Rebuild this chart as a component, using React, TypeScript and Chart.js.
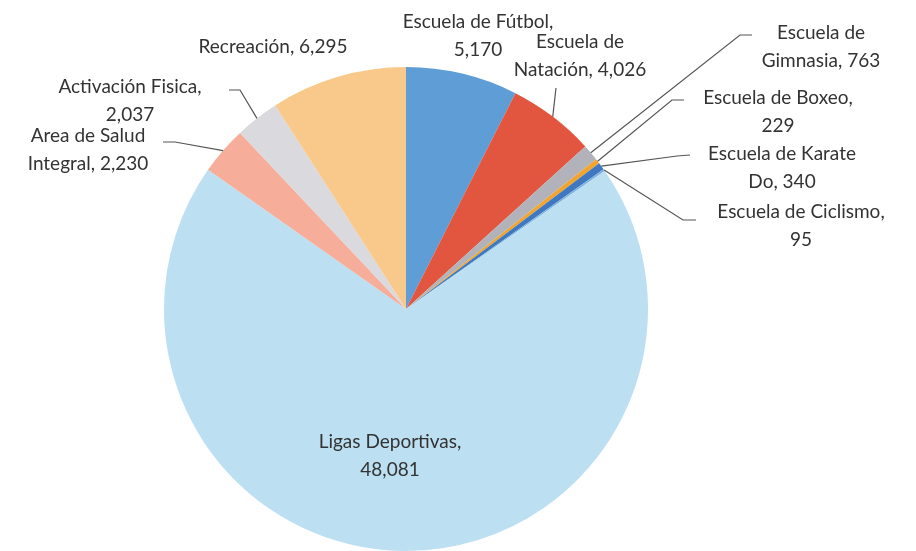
import React, { useEffect, useRef } from "react";
import { Chart, registerables } from "chart.js";

Chart.register(...registerables);

const categories = [
  "Escuela de Fútbol",
  "Escuela de Natación",
  "Escuela de Gimnasia",
  "Escuela de Boxeo",
  "Escuela de Karate Do",
  "Escuela de Ciclismo",
  "Ligas Deportivas",
  "Area de Salud Integral",
  "Activación Fisica",
  "Recreación",
];
const values = [5170, 4026, 763, 229, 340, 95, 48081, 2230, 2037, 6295];
const valueLabels = ["5,170", "4,026", "763", "229", "340", "95", "48,081", "2,230", "2,037", "6,295"];
const colors = [
  "#5E9DD6",
  "#E2553F",
  "#B2B2BA",
  "#F0A531",
  "#3F78C0",
  "#7FB3DE",
  "#BCDFF2",
  "#F6AE9B",
  "#D9D9DE",
  "#F9C98B",
];

// label layout: text lines, center x, first line y, leader line points (elbow, end)
const labelLayout: { lines: string[]; x: number; y: number; leader?: number[][] }[] = [
  { lines: ["Escuela de Fútbol,", "5,170"], x: 478, y: 22 },
  { lines: ["Escuela de", "Natación, 4,026"], x: 580, y: 42, leader: [[556, 88]] },
  { lines: ["Escuela de", "Gimnasia, 763"], x: 821, y: 33, leader: [[740, 35], [752, 35]] },
  { lines: ["Escuela de Boxeo,", "229"], x: 778, y: 98, leader: [[672, 100], [684, 100]] },
  { lines: ["Escuela de Karate", "Do, 340"], x: 782, y: 154, leader: [[677, 156], [690, 155]] },
  { lines: ["Escuela de Ciclismo,", "95"], x: 801, y: 212, leader: [[683, 220], [696, 220]] },
  { lines: ["Ligas Deportivas,", "48,081"], x: 390, y: 442 },
  { lines: ["Area de Salud", "Integral, 2,230"], x: 88, y: 136, leader: [[175, 142], [163, 142]] },
  { lines: ["Activación Fisica,", "2,037"], x: 130, y: 87, leader: [[240, 90], [229, 90]] },
  { lines: ["Recreación, 6,295"], x: 273, y: 47 },
];

const labelPlugin = {
  id: "pieLabels",
  afterDraw(chart: any) {
    const ctx = chart.ctx;
    const meta = chart.getDatasetMeta(0);
    ctx.save();
    ctx.font = "19px Lato, 'Open Sans', sans-serif";
    ctx.fillStyle = "#333333";
    ctx.textAlign = "center";
    ctx.textBaseline = "middle";
    meta.data.forEach((arc: any, i: number) => {
      const lay = labelLayout[i];
      if (!lay) return;
      if (lay.leader) {
        const mid = (arc.startAngle + arc.endAngle) / 2;
        const sx = arc.x + Math.cos(mid) * arc.outerRadius;
        const sy = arc.y + Math.sin(mid) * arc.outerRadius;
        ctx.strokeStyle = "#555";
        ctx.lineWidth = 1.2;
        ctx.beginPath();
        ctx.moveTo(sx, sy);
        lay.leader.forEach((p) => ctx.lineTo(p[0], p[1]));
        ctx.stroke();
      }
      lay.lines.forEach((t, k) => {
        ctx.fillText(t, lay.x, lay.y + k * 28);
      });
    });
    ctx.restore();
  },
};

export default function App() {
  const ref = useRef<HTMLCanvasElement | null>(null);
  useEffect(() => {
    if (!ref.current) return;
    const chart = new Chart(ref.current, {
      type: "pie",
      data: {
        labels: categories.map((c, i) => c + ", " + valueLabels[i]),
        datasets: [
          {
            data: values,
            backgroundColor: colors,
            borderWidth: 0,
          },
        ],
      },
      options: {
        animation: false,
        responsive: false,
        maintainAspectRatio: false,
        layout: { padding: { top: 67, bottom: 0, left: 164, right: 268 } },
        plugins: {
          legend: { display: false },
          tooltip: { enabled: false },
        },
      },
      plugins: [labelPlugin],
    });
    return () => chart.destroy();
  }, []);
  return (
    <div style={{ position: "fixed", left: 0, top: 0, width: 916, height: 551, background: "#fff" }}>
      <canvas ref={ref} width={916} height={551} style={{ width: 916, height: 551 }} />
    </div>
  );
}
